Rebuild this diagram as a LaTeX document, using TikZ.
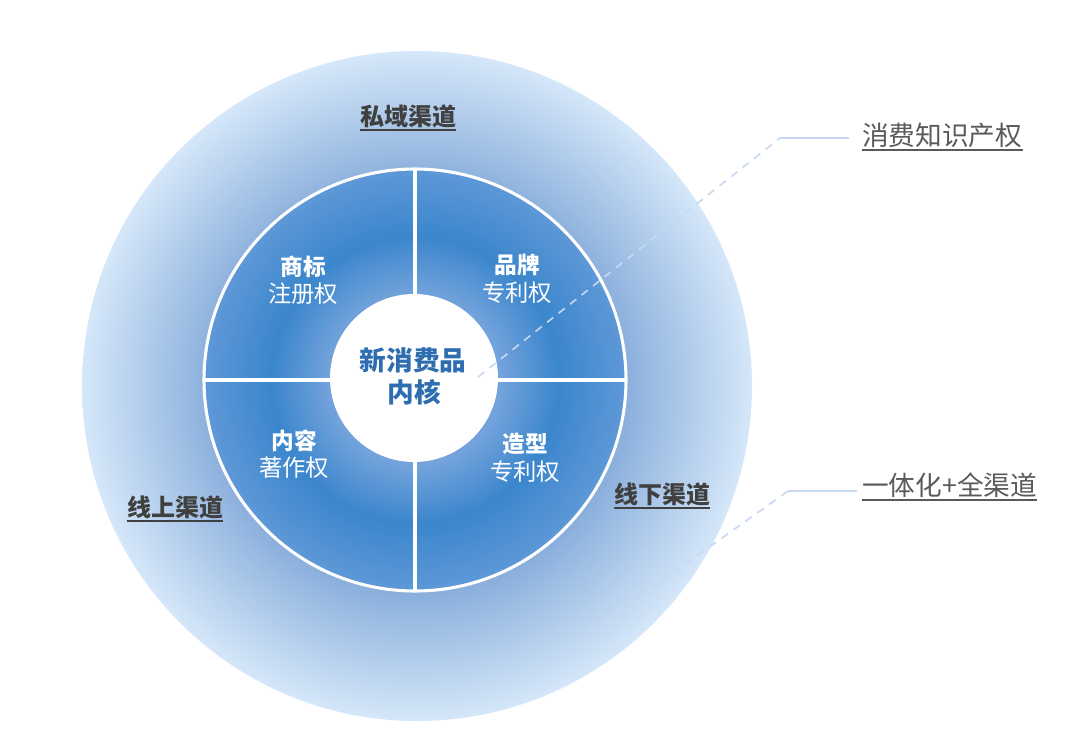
\documentclass[tikz,border=0pt]{standalone}
\usepackage{fontspec}
\setmainfont{Noto Sans CJK SC}
\definecolor{ringin}{HTML}{8AAFDC}
\definecolor{ringout}{HTML}{D5E7F9}
\definecolor{qin}{HTML}{74A3DC}
\definecolor{qdark}{HTML}{3B86CC}
\definecolor{qedge}{HTML}{5E98D7}
\definecolor{coretext}{HTML}{2E6DB0}
\definecolor{labelgray}{HTML}{404040}
\definecolor{sidegray}{HTML}{5A5A5A}
\definecolor{leader}{HTML}{C6D9F0}
\pgfdeclareradialshading{outerring}{\pgfpoint{0bp}{0bp}}{color(0bp)=(ringin); color(15.5bp)=(ringin); color(25bp)=(ringout); color(50bp)=(ringout)}
\pgfdeclareradialshading{quadfill}{\pgfpoint{0bp}{0bp}}{color(0bp)=(qin); color(10bp)=(qin); color(17bp)=(qdark); color(25bp)=(qedge); color(50bp)=(qedge)}
\tikzset{
  chan/.style={inner sep=0pt, text=labelgray, font=\fontsize{18pt}{20pt}\selectfont\bfseries},
  side/.style={inner sep=0pt, text=sidegray, anchor=west, font=\fontsize{20pt}{22pt}\selectfont},
  qhead/.style={inner sep=0pt, text=white, font=\fontsize{17pt}{19pt}\selectfont\bfseries},
  qsub/.style={inner sep=0pt, text=white, font=\fontsize{17.5pt}{19pt}\selectfont},
  coret/.style={inner sep=0pt, text=coretext, font=\fontsize{20pt}{22pt}\selectfont\bfseries},
  uline/.style={draw=labelgray, line width=1.4pt},
  sline/.style={draw=sidegray, line width=1.2pt},
  leaderdash/.style={draw=leader, line width=1.2pt, dash pattern=on 6pt off 5pt},
  leadersolid/.style={draw=leader, line width=1.2pt},
  divider/.style={draw=white, line width=2.3pt}
}
\begin{document}
\begin{tikzpicture}[x=0.75pt,y=-0.75pt]
\useasboundingbox (0,0) rectangle (1080,739);
\fill[white] (0,0) rectangle (1080,739);
% discs
\coordinate (oc) at (417,386);
\coordinate (c) at (415,380);
\coordinate (cc) at (414,378);
\shade[shading=outerring] (oc) circle[radius=251.25pt];
\shade[shading=quadfill] (c) circle[radius=158.25pt];
\draw[divider] (415,168) -- (415,592);
\draw[divider] (205,380) -- (625,380);
\draw[divider] (c) circle[radius=158.25pt];
\fill[white] (cc) circle[radius=63pt];
% leader lines
\coordinate (s1) at (478,377);
\coordinate (b1) at (780,138);
\coordinate (s2) at (590,632);
\coordinate (b2) at (788,491);
\node[side] (ip) at (862,135) {消费知识产权};
\node[side] (omni) at (862,485) {一体化+全渠道};
\draw[leaderdash] (s1) -- (b1);
\draw[leadersolid] (b1) -- ([xshift=-10pt]ip.west |- b1);
\draw[leaderdash] (s2) -- (b2);
\draw[leadersolid] (b2) -- ([xshift=-4pt]omni.west |- b2);
\draw[sline] ([yshift=-3.6pt]ip.base west) -- ([yshift=-3.6pt]ip.base east);
\draw[sline] ([yshift=-3.6pt]omni.base west) -- ([yshift=-3.6pt]omni.base east);
% channel labels
\node[chan] (priv) at (408,116) {私域渠道};
\node[chan] (online) at (175,507) {线上渠道};
\node[chan] (offline) at (662,494) {线下渠道};
\foreach \n in {priv,online,offline}
  \draw[uline] ([yshift=-3.8pt]\n.base west) -- ([yshift=-3.8pt]\n.base east);
% quadrants
\node[qhead] (tm) at (303,267) {商标};
\node[qsub] (tmr) at (303,294) {注册权};
\node[qhead] (br) at (517,265) {品牌};
\node[qsub] (brr) at (517,293) {专利权};
\node[qhead] (ct) at (294,441) {内容};
\node[qsub] (ctr) at (294,468) {著作权};
\node[qhead] (sh) at (525,444) {造型};
\node[qsub] (shr) at (525,472) {专利权};
% core
\node[coret] (core1) at (413,360) {新消费品};
\node[coret] (core2) at (414,392) {内核};
\end{tikzpicture}
\end{document}
